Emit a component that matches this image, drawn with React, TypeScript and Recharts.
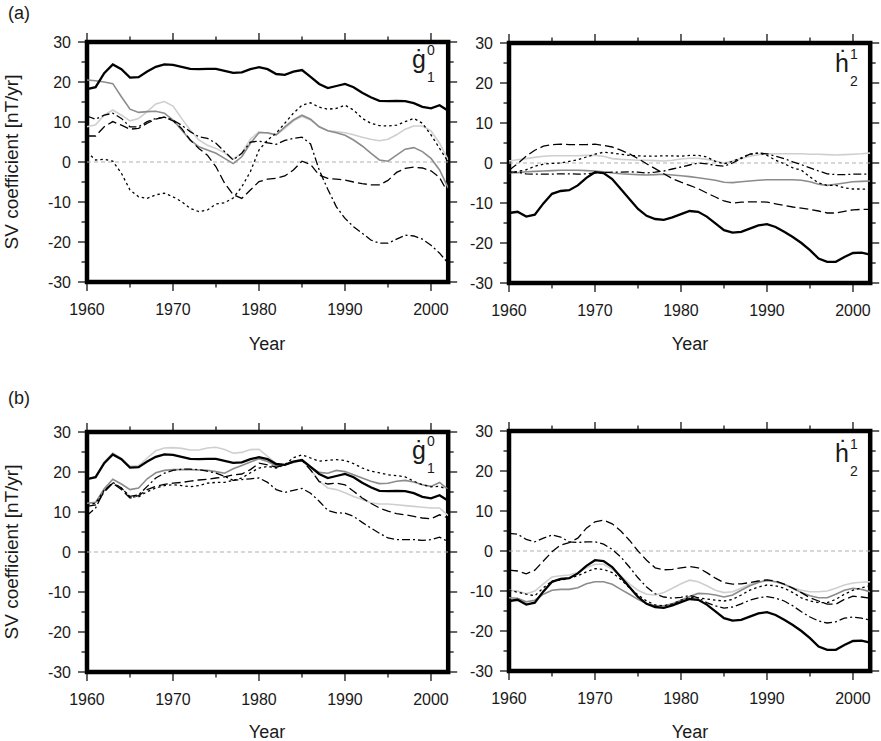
import React from 'react';
import { LineChart, Line, XAxis, YAxis, ReferenceLine, ReferenceArea } from 'recharts';

const FONT = '"Liberation Sans", Arial, Helvetica, sans-serif';
const TEXT = '#1a1a1a';

const YEARS = [
  1960, 1961, 1962, 1963, 1964, 1965, 1966, 1967, 1968, 1969,
  1970, 1971, 1972, 1973, 1974, 1975, 1976, 1977, 1978, 1979,
  1980, 1981, 1982, 1983, 1984, 1985, 1986, 1987, 1988, 1989,
  1990, 1991, 1992, 1993, 1994, 1995, 1996, 1997, 1998, 1999,
  2000, 2001, 2002,
];
const X_TICKS = [1960, 1965, 1970, 1975, 1980, 1985, 1990, 1995, 2000];
const X_LABELS = [1960, 1970, 1980, 1990, 2000];
const Y_TICKS = [-30, -25, -20, -15, -10, -5, 0, 5, 10, 15, 20, 25, 30];
const Y_LABELS = [-30, -20, -10, 0, 10, 20, 30];

// ---- reference model (thick black), same in (a) and (b)
const refG10 = [
  18.2, 18.7, 22.2, 24.4, 23.2, 21.1, 21.2, 22.6, 23.8, 24.4,
  24.3, 23.8, 23.3, 23.2, 23.3, 23.3, 22.8, 22.3, 22.4, 23.2,
  23.7, 23.2, 22.0, 21.8, 22.6, 23.0, 21.3, 19.5, 18.5, 19.0,
  19.5, 18.7, 17.3, 16.2, 15.3, 15.2, 15.3, 15.2, 14.7, 13.8,
  13.4, 14.2, 12.8,
];
const refH21 = [
  -12.5, -12.2, -13.4, -12.9, -10.1, -7.7, -7.0, -6.8, -5.6, -3.7,
  -2.3, -2.5, -4.0, -6.5, -9.0, -11.5, -13.2, -14.0, -14.2, -13.6,
  -12.8, -12.0, -12.2, -13.4, -15.1, -16.8, -17.4, -17.2, -16.4, -15.6,
  -15.3, -16.0, -17.2, -18.5, -20.0, -21.8, -23.9, -24.7, -24.7, -23.5,
  -22.5, -22.4, -22.9,
];

// ---- (a) g10
const aG10Dark = [
  20.5, 20.3, 20.0, 19.6, 16.3, 13.2, 12.4, 12.6, 12.7, 12.2,
  10.5, 8.0, 5.5, 3.8, 3.0, 2.2, 0.9, -0.4, 1.3, 4.7,
  7.3, 7.3, 6.8, 8.8, 10.5, 11.7, 10.7, 8.8, 7.8, 7.3,
  6.7, 5.5, 4.0, 2.2, 0.5, 0.2, 1.7, 3.2, 3.6, 2.6,
  0.9, -2.0, -6.5,
];
const aG10Light = [
  8.8, 9.3, 11.7, 13.0, 11.7, 10.3, 10.9, 12.6, 14.5, 15.1,
  14.0, 10.9, 8.0, 5.5, 4.2, 3.4, 2.3, 0.7, 2.2, 5.7,
  7.6, 7.2, 6.8, 8.4, 10.3, 11.4, 10.5, 8.8, 7.8, 7.6,
  7.3, 6.8, 6.2, 5.7, 5.3, 5.7, 6.8, 8.2, 9.0, 9.0,
  7.8, 4.7, 0.5,
];
const aG10Dot = [
  2.5, 0.5, 0.7, 0.2, -2.8, -7.0, -8.7, -9.1, -8.2, -7.8,
  -8.7, -9.9, -11.6, -12.4, -12.0, -10.5, -10.2, -9.0, -6.2, -2.4,
  3.0, 5.5, 7.2, 9.7, 12.2, 14.2, 14.8, 13.7, 13.2, 13.4,
  14.2, 13.0, 10.9, 9.7, 9.1, 9.0, 9.2, 10.1, 10.9, 9.7,
  6.8, 3.4, 0.0,
];
const aG10Dash = [
  6.5, 6.5, 8.8, 10.1, 9.2, 8.2, 8.4, 9.7, 10.7, 11.2,
  10.3, 8.4, 5.5, 3.4, 1.7, -1.2, -5.3, -8.2, -9.1, -7.0,
  -4.9, -4.3, -4.1, -3.5, -2.0, 0.2, -0.6, -3.3, -4.1, -4.3,
  -4.5, -5.0, -5.4, -5.7, -5.7, -4.6, -2.6, -1.6, -1.3, -1.5,
  -2.2, -3.9, -7.8,
];
const aG10DashDot = [
  11.5, 10.7, 11.7, 12.2, 10.9, 8.8, 8.8, 10.1, 10.9, 11.2,
  10.5, 9.2, 7.6, 6.3, 5.9, 4.7, 2.6, 0.5, 2.2, 5.0,
  5.2, 4.8, 4.4, 5.4, 5.9, 6.2, 4.5, -2.0, -6.8, -11.2,
  -14.1, -16.2, -17.8, -19.5, -20.3, -20.3, -19.3, -18.3, -18.5, -19.3,
  -20.8, -22.8, -25.3,
];

// ---- (a) h21
const aH21Dark = [
  -2.5, -2.4, -2.2, -2.1, -2.0, -1.9, -1.8, -1.8, -1.8, -1.9,
  -2.0, -2.2, -2.5, -2.7, -2.8, -2.9, -3.0, -2.9, -2.8, -3.0,
  -3.2, -3.4, -3.7, -4.0, -4.3, -4.8, -4.9, -4.7, -4.5, -4.3,
  -4.2, -4.2, -4.2, -4.2, -4.3, -4.7, -5.3, -5.6, -5.3, -5.0,
  -4.7, -4.6, -4.5,
];
const aH21Light = [
  0.5, 0.8, 1.1, 1.4, 1.7, 1.8, 1.8, 1.8, 1.8, 1.9,
  1.9, 1.7, 1.1, 0.9, 0.8, 0.7, 0.7, 0.6, 0.5, 0.7,
  1.0, 1.2, 1.2, 0.9, 0.5, 0.0, 0.5, 1.1, 1.7, 2.1,
  2.3, 2.3, 2.3, 2.3, 2.3, 2.2, 2.2, 2.1, 2.0, 2.1,
  2.2, 2.3, 2.5,
];
const aH21Dot = [
  -2.5, -2.1, -1.7, -0.8, -0.3, -0.1, 0.0, 0.4, 0.8, 1.5,
  2.2, 2.7, 2.5, 2.2, 1.9, 1.8, 1.7, 1.7, 1.8, 1.8,
  1.7, 1.9, 1.9, 1.5, 0.4, -0.2, 0.4, 1.3, 2.2, 2.5,
  1.9, 0.7, -0.2, -1.2, -1.8, -3.5, -5.0, -5.6, -5.6, -6.2,
  -6.5, -6.5, -6.6,
];
const aH21Dash = [
  -1.8, -0.2, 1.7, 3.2, 4.2, 4.6, 4.7, 4.6, 4.6, 4.6,
  4.7, 4.4, 4.0, 3.2, 2.3, 1.1, -0.2, -1.4, -2.7, -3.9,
  -4.8, -5.6, -6.4, -7.5, -8.5, -9.5, -10.0, -9.8, -9.7, -9.7,
  -9.8, -10.2, -10.6, -11.0, -11.3, -11.6, -12.0, -12.5, -12.5, -12.1,
  -11.7, -11.6, -11.6,
];
const aH21DashDot = [
  -2.2, -2.3, -2.7, -2.8, -2.8, -2.8, -2.7, -2.7, -2.8, -2.7,
  -2.5, -2.4, -2.3, -2.3, -2.2, -2.3, -2.5, -2.3, -2.0, -1.5,
  -1.0, -0.5, 0.0, -0.2, -0.6, -0.8, 0.0, 1.1, 2.2, 2.5,
  2.3, 1.7, 1.1, 0.3, -0.4, -1.2, -2.0, -2.7, -2.9, -2.9,
  -2.8, -2.8, -2.8,
];

// ---- (b) g10
const bG10Dark = [
  12.2, 12.4, 15.8, 18.2, 17.0, 15.6, 16.0, 18.3, 19.8, 20.4,
  20.6, 20.6, 20.6, 20.5, 20.4, 20.1, 19.7, 20.8, 21.6, 22.5,
  23.3, 22.6, 21.5, 21.8, 22.4, 22.9, 21.3, 19.9, 19.7, 20.4,
  20.1, 19.3, 18.5, 17.7, 17.1, 17.2, 17.7, 17.9, 17.5, 16.8,
  16.4, 17.4, 15.6,
];
const bG10Light = [
  18.2, 18.8, 22.5, 24.8, 23.4, 21.4, 21.6, 23.5, 25.3, 26.0,
  26.1, 25.9, 25.5, 25.5, 26.0, 26.2, 25.6, 24.7, 24.9, 25.6,
  25.7, 23.9, 22.1, 21.8, 22.6, 22.9, 20.7, 17.7, 16.0, 15.6,
  14.8, 13.9, 13.1, 12.3, 12.0, 12.0, 11.8, 11.6, 11.4, 11.2,
  11.0, 11.0, 9.1,
];
const bG10Dot = [
  11.8, 12.2, 15.4, 17.2, 16.0, 13.8, 13.8, 15.1, 16.0, 16.6,
  16.8, 16.6, 16.3, 16.6, 17.2, 17.4, 17.4, 17.9, 18.5, 19.8,
  21.0, 21.4, 21.0, 21.8, 23.6, 24.3, 23.5, 22.7, 22.9, 23.1,
  22.9, 22.1, 21.0, 20.2, 19.8, 19.3, 19.1, 18.8, 17.7, 16.8,
  16.3, 16.4, 15.6,
];
const bG10Dash = [
  11.4, 11.8, 15.0, 17.2, 15.6, 13.5, 14.1, 15.6, 16.4, 16.9,
  17.2, 17.4, 17.7, 18.0, 18.2, 18.5, 18.8, 19.3, 19.5, 20.6,
  22.2, 21.8, 21.2, 21.8, 22.7, 22.9, 20.5, 17.6, 17.0, 17.2,
  16.8, 15.2, 13.5, 12.2, 11.0, 10.2, 9.6, 9.3, 8.9, 8.5,
  8.3, 9.3, 8.5,
];
const bG10DashDot = [
  9.1, 11.0, 15.3, 17.4, 16.0, 13.9, 14.3, 16.4, 18.5, 19.7,
  20.4, 20.7, 20.7, 20.6, 20.2, 19.7, 18.9, 17.9, 18.1, 18.3,
  18.5, 17.4, 15.6, 14.9, 15.4, 15.9, 14.7, 12.7, 10.4, 9.8,
  9.7, 8.9, 7.4, 6.0, 4.7, 3.5, 3.1, 3.1, 3.1, 2.9,
  3.1, 3.7, 2.6,
];

// ---- (b) h21
const bH21Dark = [
  -11.7, -11.8, -12.7, -12.3, -10.8, -9.8, -9.6, -9.6, -9.2, -8.2,
  -7.7, -7.7, -8.3, -9.6, -10.8, -12.1, -13.2, -13.7, -13.7, -13.2,
  -12.3, -11.4, -10.6, -10.7, -11.0, -11.5, -11.0, -9.8, -8.7, -7.9,
  -7.3, -7.7, -8.3, -9.3, -10.4, -11.2, -11.7, -11.7, -10.8, -9.8,
  -9.3, -9.6, -10.2,
];
const bH21Light = [
  -9.8, -10.0, -10.7, -10.0, -8.2, -6.5, -6.2, -6.0, -5.4, -4.2,
  -3.3, -3.3, -4.6, -6.2, -8.2, -9.8, -10.8, -11.0, -10.4, -9.3,
  -8.2, -7.3, -7.7, -8.7, -9.8, -10.4, -10.2, -9.3, -8.3, -7.7,
  -7.5, -7.7, -8.3, -9.2, -9.8, -10.2, -10.2, -10.0, -9.3, -8.5,
  -8.0, -7.8, -7.7,
];
const bH21Dot = [
  -9.8, -10.3, -10.8, -11.2, -9.2, -7.5, -7.3, -6.8, -6.2, -5.2,
  -4.4, -4.6, -5.4, -7.1, -9.2, -11.0, -12.5, -13.5, -13.7, -13.2,
  -12.3, -11.6, -11.7, -12.0, -12.3, -12.5, -12.1, -11.0, -9.8, -9.0,
  -8.5, -8.7, -9.3, -10.4, -11.7, -12.5, -12.9, -12.9, -12.1, -10.8,
  -9.8, -9.2, -8.7,
];
const bH21Dash = [
  -4.8, -5.0, -5.7, -4.8, -2.5, -0.2, 1.5, 2.1, 3.2, 5.7,
  7.3, 7.7, 6.8, 5.0, 2.7, 0.0, -2.3, -4.2, -4.7, -4.6,
  -4.2, -3.9, -4.2, -5.4, -6.8, -7.9, -8.3, -8.2, -7.9, -7.5,
  -7.2, -7.5, -8.3, -9.3, -10.4, -11.7, -12.5, -13.3, -13.3, -12.1,
  -11.3, -11.5, -11.8,
];
const bH21DashDot = [
  4.4, 4.2, 2.9, 2.3, 3.2, 4.0, 3.5, 2.3, 2.1, 2.3,
  2.3, 1.7, 0.4, -1.5, -4.0, -6.7, -9.0, -10.7, -11.5, -11.8,
  -11.6, -11.1, -11.7, -12.9, -13.7, -14.3, -14.0, -13.2, -12.3, -11.7,
  -11.4, -11.8, -12.5, -13.7, -15.2, -16.5, -17.5, -18.0, -17.7, -16.8,
  -16.5, -16.8, -17.3,
];

type SeriesStyle = { color: string; width: number; dash?: string };
const STYLES: Record<string, SeriesStyle> = {
  light: { color: '#cfcfcf', width: 1.6 },
  dark: { color: '#8c8c8c', width: 1.6 },
  dot: { color: '#000', width: 1.3, dash: '2.5 3' },
  dash: { color: '#000', width: 1.3, dash: '9 4' },
  dashdot: { color: '#000', width: 1.3, dash: '8 3 2 3' },
  ref: { color: '#000', width: 2.3 },
};
const ORDER = ['light', 'dark', 'dot', 'dash', 'dashdot', 'ref'];

function buildRows(series: Record<string, number[]>) {
  return YEARS.map((year, i) => {
    const row: Record<string, number> = { year };
    for (const k of Object.keys(series)) row[k] = series[k][i];
    return row;
  });
}

const rowsA1 = buildRows({ light: aG10Light, dark: aG10Dark, dot: aG10Dot, dash: aG10Dash, dashdot: aG10DashDot, ref: refG10 });
const rowsA2 = buildRows({ light: aH21Light, dark: aH21Dark, dot: aH21Dot, dash: aH21Dash, dashdot: aH21DashDot, ref: refH21 });
const rowsB1 = buildRows({ light: bG10Light, dark: bG10Dark, dot: bG10Dot, dash: bG10Dash, dashdot: bG10DashDot, ref: refG10 });
const rowsB2 = buildRows({ light: bH21Light, dark: bH21Dark, dot: bH21Dot, dash: bH21Dash, dashdot: bH21DashDot, ref: refH21 });

const ML = 60;
const MT = 20;

function Panel({ plotLeft, plotTop, plotW, plotH, rows }: { plotLeft: number; plotTop: number; plotW: number; plotH: number; rows: any[] }) {
  const W = plotW + 80;
  const H = plotH + 60;
  const PB = MT + plotH;
  const PR = ML + plotW;
  const xTick = (p: any) => {
    const v = p.payload.value;
    const x = p.x;
    const major = v % 10 === 0;
    const len = major ? 9 : 5.5;
    return (
      <g>
        <line x1={x} x2={x} y1={PB} y2={PB + len} stroke="#000" strokeWidth={1.2} />
        <line x1={x} x2={x} y1={MT} y2={MT - len} stroke="#000" strokeWidth={1.2} />
        {X_LABELS.includes(v) && (
          <text x={x} y={PB + 33} textAnchor="middle" fontSize={16} fontFamily={FONT} fill={TEXT}>{v}</text>
        )}
      </g>
    );
  };
  const yTick = (p: any) => {
    const v = p.payload.value;
    const y = p.y;
    const major = v % 10 === 0;
    const len = major ? 9 : 5.5;
    return (
      <g>
        <line x1={ML} x2={ML - len} y1={y} y2={y} stroke="#000" strokeWidth={1.2} />
        <line x1={PR} x2={PR + len} y1={y} y2={y} stroke="#000" strokeWidth={1.2} />
        {Y_LABELS.includes(v) && (
          <text x={ML - 16} y={y} dy="0.36em" textAnchor="end" fontSize={16} fontFamily={FONT} fill={TEXT}>{v}</text>
        )}
      </g>
    );
  };
  return (
    <div style={{ position: 'absolute', left: plotLeft - ML, top: plotTop - MT }}>
      <LineChart width={W} height={H} data={rows} margin={{ top: MT, right: 20, bottom: 0, left: 0 }}>
        <XAxis dataKey="year" type="number" domain={[1960, 2002]} ticks={X_TICKS} interval={0} tick={xTick} tickLine={false} axisLine={false} height={40} allowDataOverflow />
        <YAxis type="number" domain={[-30, 30]} ticks={Y_TICKS} interval={0} tick={yTick} tickLine={false} axisLine={false} width={60} allowDataOverflow />
        <ReferenceLine y={0} stroke="#b0b0b0" strokeDasharray="4 3" strokeWidth={1} />
        {ORDER.map((k) => (
          <Line key={k} dataKey={k} type="linear" stroke={STYLES[k].color} strokeWidth={STYLES[k].width} strokeDasharray={STYLES[k].dash} dot={false} activeDot={false} isAnimationActive={false} />
        ))}
        <ReferenceArea x1={1960} x2={2002} y1={-30} y2={30} fill="none" fillOpacity={0} stroke="#000" strokeWidth={4.5} />
      </LineChart>
    </div>
  );
}

function CoefLabel({ x, y, letter, sup, sub }: { x: number; y: number; letter: string; sup: string; sub: string }) {
  const t = { fontFamily: FONT, fill: TEXT } as const;
  return (
    <g>
      <text x={x} y={y} fontSize={25} {...t}>{letter}</text>
      <text x={x + 15} y={y - 13} fontSize={14} {...t}>{sup}</text>
      <text x={x + 15} y={y + 14} fontSize={14} {...t}>{sub}</text>
    </g>
  );
}

function Overlay() {
  const t = { fontFamily: FONT, fill: TEXT } as const;
  return (
    <svg width={881} height={741} style={{ position: 'absolute', left: 0, top: 0, pointerEvents: 'none' }}>
      <text x={8} y={19} fontSize={18} {...t}>(a)</text>
      <text x={8} y={404} fontSize={18} {...t}>(b)</text>
      <text transform="translate(18,162) rotate(-90)" textAnchor="middle" fontSize={19} {...t}>SV coefficient [nT/yr]</text>
      <text transform="translate(18,552) rotate(-90)" textAnchor="middle" fontSize={19} {...t}>SV coefficient [nT/yr]</text>
      <text x={267} y={350} textAnchor="middle" fontSize={18} {...t}>Year</text>
      <text x={690} y={350} textAnchor="middle" fontSize={18} {...t}>Year</text>
      <text x={267} y={738} textAnchor="middle" fontSize={18} {...t}>Year</text>
      <text x={690} y={738} textAnchor="middle" fontSize={18} {...t}>Year</text>

      <CoefLabel x={412} y={68} letter="ġ" sup="0" sub="1" />
      <CoefLabel x={835} y={72} letter="ḣ" sup="1" sub="2" />
      <CoefLabel x={412} y={459} letter="ġ" sup="0" sub="1" />
      <CoefLabel x={835} y={462} letter="ḣ" sup="1" sub="2" />
    </svg>
  );
}

export default function App() {
  return (
    <div style={{ position: 'absolute', left: 0, top: 0, width: 881, height: 741, background: '#fff', overflow: 'hidden' }}>
      <Panel plotLeft={86.7} plotTop={42} plotW={361.2} plotH={240} rows={rowsA1} />
      <Panel plotLeft={509.3} plotTop={42.5} plotW={361.2} plotH={240} rows={rowsA2} />
      <Panel plotLeft={86.7} plotTop={432.3} plotW={361.2} plotH={240} rows={rowsB1} />
      <Panel plotLeft={509.3} plotTop={430.5} plotW={361.2} plotH={240} rows={rowsB2} />
      <Overlay />
    </div>
  );
}
